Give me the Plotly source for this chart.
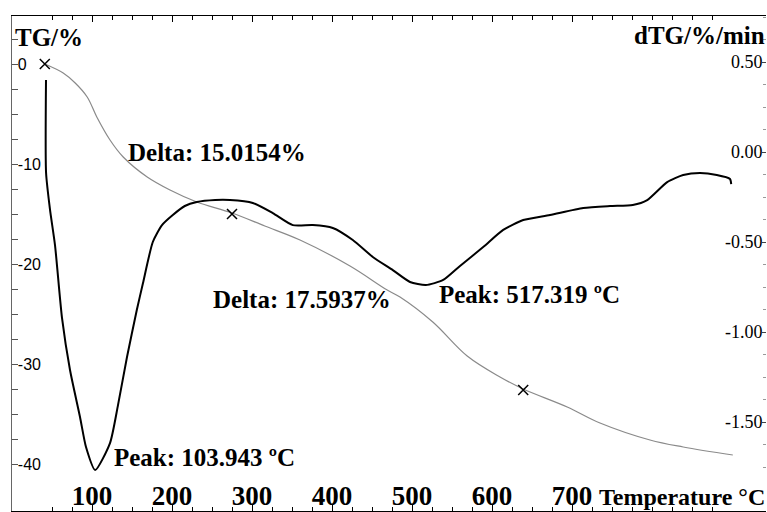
import plotly.graph_objects as go

# TG curve (temperature °C, mass %)
tg_T = [41, 64, 79, 94, 106, 122.5, 139, 169, 197.5, 231, 275, 316, 360, 422.5, 469, 485,
        526, 569, 610, 639, 694, 735, 797.5, 839, 901]
tg_val = [0.0, -0.9, -1.9, -3.3, -5.3, -7.6, -9.3, -11.3, -12.6, -13.8, -14.9, -16.2, -17.6,
          -20.2, -22.6, -23.3, -25.8, -29.2, -31.3, -32.5, -34.3, -35.9, -37.6, -38.3, -39.1]

# dTG curve (temperature °C, %/min)
dtg_T = [42.5, 42.6, 47.5, 53.75, 62.5, 72.5, 85, 92.5, 104, 122.5, 132.5, 143.75, 156,
         163.75, 176, 187.5, 201, 216, 231, 254, 272.5, 301, 326, 351, 376, 401, 426, 451,
         476, 497.5, 517.3, 539, 560, 589, 614, 639, 672.5, 714, 747.5, 776, 794, 819, 839,
         860, 881, 897.5, 899]
dtg_val = [0.40, -0.117, -0.32, -0.517, -0.922, -1.211, -1.472, -1.639, -1.767, -1.617,
           -1.406, -1.139, -0.878, -0.728, -0.50, -0.406, -0.35, -0.30, -0.278, -0.267,
           -0.267, -0.283, -0.339, -0.406, -0.406, -0.422, -0.489, -0.583, -0.656, -0.722,
           -0.739, -0.711, -0.633, -0.528, -0.433, -0.378, -0.35, -0.311, -0.30, -0.294,
           -0.267, -0.167, -0.128, -0.117, -0.128, -0.15, -0.178]

# step markers on TG curve
mark_T = [41, 275, 639]
mark_TG = [0.0, -15.0, -32.6]

x_ticks = [100, 200, 300, 400, 500, 600, 700]
x_ticktext = ["100", "200", "300", "400", "500", "600", "700"]
tg_ticks = [0, -10, -20, -30, -40]
tg_ticktext = ["0", "-10", "-20", "-30", "-40"]
dtg_ticks = [0.5, 0.0, -0.5, -1.0, -1.5]
dtg_ticktext = ["0.50", "0.00", "-0.50", "-1.00", "-1.50"]

SERIF = "Liberation Serif"
SANS = "Liberation Sans"

fig = go.Figure()
fig.add_trace(go.Scatter(x=tg_T, y=tg_val, mode="lines", line=dict(color="#8a8a8a", width=1.2, shape="spline"),
                         yaxis="y", showlegend=False, hoverinfo="skip"))
fig.add_trace(go.Scatter(x=dtg_T, y=dtg_val, mode="lines", line=dict(color="black", width=2, shape="spline", smoothing=0.6),
                         yaxis="y2", showlegend=False, hoverinfo="skip"))
fig.add_trace(go.Scatter(x=mark_T, y=mark_TG, mode="markers",
                         marker=dict(symbol="x-thin", size=10, line=dict(color="black", width=1.5)),
                         yaxis="y", showlegend=False, hoverinfo="skip"))

bold = dict(family=SERIF, size=25, color="black", weight="bold")

W, H = 767, 512
L, R, T, B = 12, 1, 16, 1
ann = []
for txt, px, py, sz in [("TG/%", 13, 38, 25), ("dTG/%/min", 632, 35, 25), ("Temperature °C", 597, 497, 24)]:
    ann.append(dict(text=txt, xref="paper", yref="paper",
                    x=(px - L) / (W - L - R), y=1 - (py - T) / (H - T - B),
                    xanchor="left", yanchor="middle", showarrow=False, font=dict(bold, size=sz)))
for txt, x, y in [("Delta: 15.0154%", 143, -8.8), ("Delta: 17.5937%", 249, -23.5),
                  ("Peak: 517.319 ºC", 531, -23.0), ("Peak: 103.943 ºC", 125, -39.3)]:
    ann.append(dict(text=txt, x=x, y=y, xref="x", yref="y", xanchor="left", yanchor="middle",
                    showarrow=False, font=bold))

fig.update_layout(
    width=W, height=H,
    margin=dict(l=L, r=R, t=T, b=B, pad=0),
    paper_bgcolor="white", plot_bgcolor="white",
    showlegend=False,
    annotations=ann,
    xaxis=dict(range=[0, 942.5], tickvals=x_ticks, ticktext=x_ticktext,
               ticks="inside", ticklen=6, tickcolor="black", ticklabelposition="inside",
               ticklabelstandoff=-3,
               tickfont=dict(family=SERIF, size=27, color="black", weight="bold"),
               minor=dict(dtick=25, tick0=0, ticks="inside", ticklen=4, tickcolor="black"),
               showline=True, linecolor="black", linewidth=1, mirror="ticks",
               showgrid=False, zeroline=False, fixedrange=True),
    yaxis=dict(range=[-44.7, 4.8], tickvals=tg_ticks, ticktext=tg_ticktext,
               ticks="inside", ticklen=6, tickcolor="#555", ticklabelposition="inside",
               tickfont=dict(family=SANS, size=16, color="black"),
               minor=dict(dtick=2.5, tick0=0, ticks="inside", ticklen=6, tickcolor="#555"),
               showline=True, linecolor="#666", linewidth=1,
               showgrid=False, zeroline=False, fixedrange=True),
    yaxis2=dict(range=[-1.9944, 0.7556], tickvals=dtg_ticks, ticktext=dtg_ticktext,
                overlaying="y", side="right",
                ticks="inside", ticklen=4, tickcolor="#444", ticklabelposition="inside",
                tickfont=dict(family=SERIF, size=18, color="black"),
                minor=dict(dtick=0.125, tick0=0, ticks="inside", ticklen=3, tickcolor="#999"),
                showline=False, showgrid=False, zeroline=False, fixedrange=True),
)

fig.write_html("out.html", config={"displayModeBar": False},
               post_script="document.body.style.margin='0';document.body.style.overflow='hidden';")
